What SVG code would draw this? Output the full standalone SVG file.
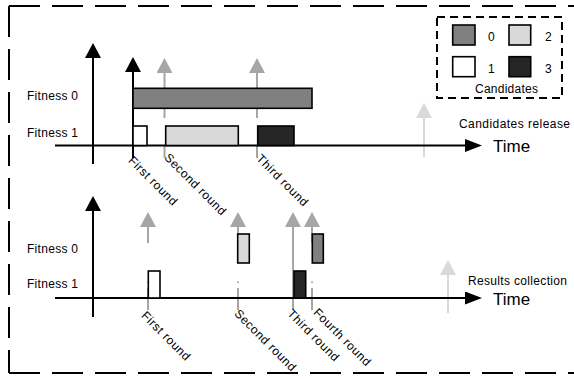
<svg xmlns="http://www.w3.org/2000/svg" width="574" height="379" viewBox="0 0 574 379">
<style>
text{font-family:"Liberation Sans",Arial,sans-serif;font-size:12px;fill:#000}
.time{font-size:17px}
.rot{letter-spacing:0.6px}
.ax{stroke:#000;stroke-width:2;fill:none}
.gr{stroke:#a6a6a6;stroke-width:2;fill:none;stroke-dasharray:12 28 46}
.grb{stroke:#a6a6a6;stroke-width:2;fill:none;stroke-dasharray:22 5 1.5 38.5 20}
.solid{stroke-dasharray:none}
.lt{stroke:#d9d9d9;stroke-width:2;fill:none}
.bar{stroke:#000;stroke-width:1.6}
.c0{fill:#808080}.c1{fill:#fff}.c2{fill:#d9d9d9}.c3{fill:#262626}
.border{stroke:#000;stroke-width:2;fill:none;stroke-dasharray:31 12}
</style>
<defs>
<marker id="ahB" markerUnits="userSpaceOnUse" markerWidth="15" markerHeight="16" refX="0" refY="8" orient="auto" viewBox="0 0 15 16"><path d="M0,0L15,8L0,16z" fill="#000"/></marker>
<marker id="ahG" markerUnits="userSpaceOnUse" markerWidth="15" markerHeight="16" refX="0" refY="8" orient="auto" viewBox="0 0 15 16"><path d="M0,0L15,8L0,16z" fill="#a6a6a6"/></marker>
<marker id="ahL" markerUnits="userSpaceOnUse" markerWidth="15" markerHeight="16" refX="0" refY="8" orient="auto" viewBox="0 0 15 16"><path d="M0,0L15,8L0,16z" fill="#d9d9d9"/></marker>
<marker id="ahT" markerUnits="userSpaceOnUse" markerWidth="17" markerHeight="13" refX="0" refY="6.5" orient="auto" viewBox="0 0 17 13"><path d="M0,0L17,6.5L0,13z" fill="#000"/></marker>
</defs>

<g id="frame">
<line class="border" x1="9" y1="6" x2="574" y2="6"/>
<line class="border" x1="9" y1="6" x2="9" y2="373"/>
<line class="border" x1="9" y1="373" x2="574" y2="373"/>
</g>

<g id="connectors">
<!-- top panel -->
<line class="gr" x1="164.5" y1="158" x2="164.5" y2="73" marker-end="url(#ahG)"/>
<line class="gr" x1="257" y1="158" x2="257" y2="73" marker-end="url(#ahG)"/>
<line class="lt" x1="424" y1="157" x2="424" y2="118" marker-end="url(#ahL)"/>
<line class="ax" x1="133" y1="158" x2="133" y2="72" marker-end="url(#ahB)"/>
<line class="ax" x1="93" y1="164" x2="93" y2="58" marker-end="url(#ahB)"/>
<line class="ax" x1="55" y1="145.5" x2="465" y2="145.5" marker-end="url(#ahT)"/>
<!-- bottom panel -->
<line class="grb" x1="148" y1="310" x2="148" y2="227" marker-end="url(#ahG)"/>
<line class="grb" x1="238" y1="310" x2="238" y2="227" marker-end="url(#ahG)"/>
<line class="grb solid" x1="293" y1="310" x2="293" y2="227" marker-end="url(#ahG)"/>
<line class="grb" x1="312" y1="310" x2="312" y2="227" marker-end="url(#ahG)"/>
<line class="lt" x1="448" y1="313" x2="448" y2="275" marker-end="url(#ahL)"/>
<line class="ax" x1="93" y1="317" x2="93" y2="211" marker-end="url(#ahB)"/>
<line class="ax" x1="55" y1="298" x2="465" y2="298" marker-end="url(#ahT)"/>
</g>

<g id="top-bars">
<rect class="bar c0" x="133" y="88.3" width="179" height="20"/>
<rect class="bar c1" x="133" y="126" width="14" height="19.5"/>
<rect class="bar c2" x="165.7" y="126" width="72.6" height="19.5"/>
<rect class="bar c3" x="257.7" y="126" width="36.3" height="19.5"/>
</g>

<g id="bottom-bars">
<rect class="bar c1" x="148.3" y="271" width="11.7" height="27"/>
<rect class="bar c2" x="237.7" y="234" width="11.6" height="29"/>
<rect class="bar c3" x="294" y="271" width="11.7" height="27"/>
<rect class="bar c0" x="312.3" y="234" width="11" height="29"/>
</g>

<g id="top-labels">
<text x="27" y="100" textLength="51">Fitness 0</text>
<text x="27" y="136.5" textLength="51">Fitness 1</text>
<text x="459" y="128" textLength="111">Candidates release</text>
<text class="time" x="493" y="152">Time</text>
<g transform="translate(134,155) rotate(45)"><text class="rot" x="0" y="9">First round</text></g>
<g transform="translate(170,152) rotate(45)"><text class="rot" x="0" y="9">Second round</text></g>
<g transform="translate(262,153) rotate(45)"><text class="rot" x="0" y="9">Third round</text></g>
</g>

<g id="bottom-labels">
<text x="27" y="253" textLength="51">Fitness 0</text>
<text x="27" y="288" textLength="51">Fitness 1</text>
<text x="468" y="285" textLength="99">Results collection</text>
<text class="time" x="493" y="305">Time</text>
<g transform="translate(147,310) rotate(45)"><text class="rot" x="0" y="9">First round</text></g>
<g transform="translate(240,308) rotate(45)"><text class="rot" x="0" y="9">Second round</text></g>
<g transform="translate(293,308) rotate(45)"><text class="rot" x="0" y="9">Third round</text></g>
<g transform="translate(319,307) rotate(45)"><text class="rot" x="0" y="9">Fourth round</text></g>
</g>

<g id="legend">
<rect x="437" y="17" width="125" height="81" fill="none" stroke="#000" stroke-width="2" stroke-dasharray="8 5"/>
<rect class="bar c0" x="452.7" y="25" width="22.3" height="20"/>
<rect class="bar c2" x="509" y="25" width="21.7" height="20"/>
<rect class="bar c1" x="452.7" y="56.7" width="22.3" height="20"/>
<rect class="bar c3" x="509" y="56.7" width="21.7" height="20"/>
<text x="488" y="41">0</text>
<text x="545" y="41">2</text>
<text x="488" y="73">1</text>
<text x="545" y="73">3</text>
<text x="475" y="93" textLength="63">Candidates</text>
</g>
</svg>
